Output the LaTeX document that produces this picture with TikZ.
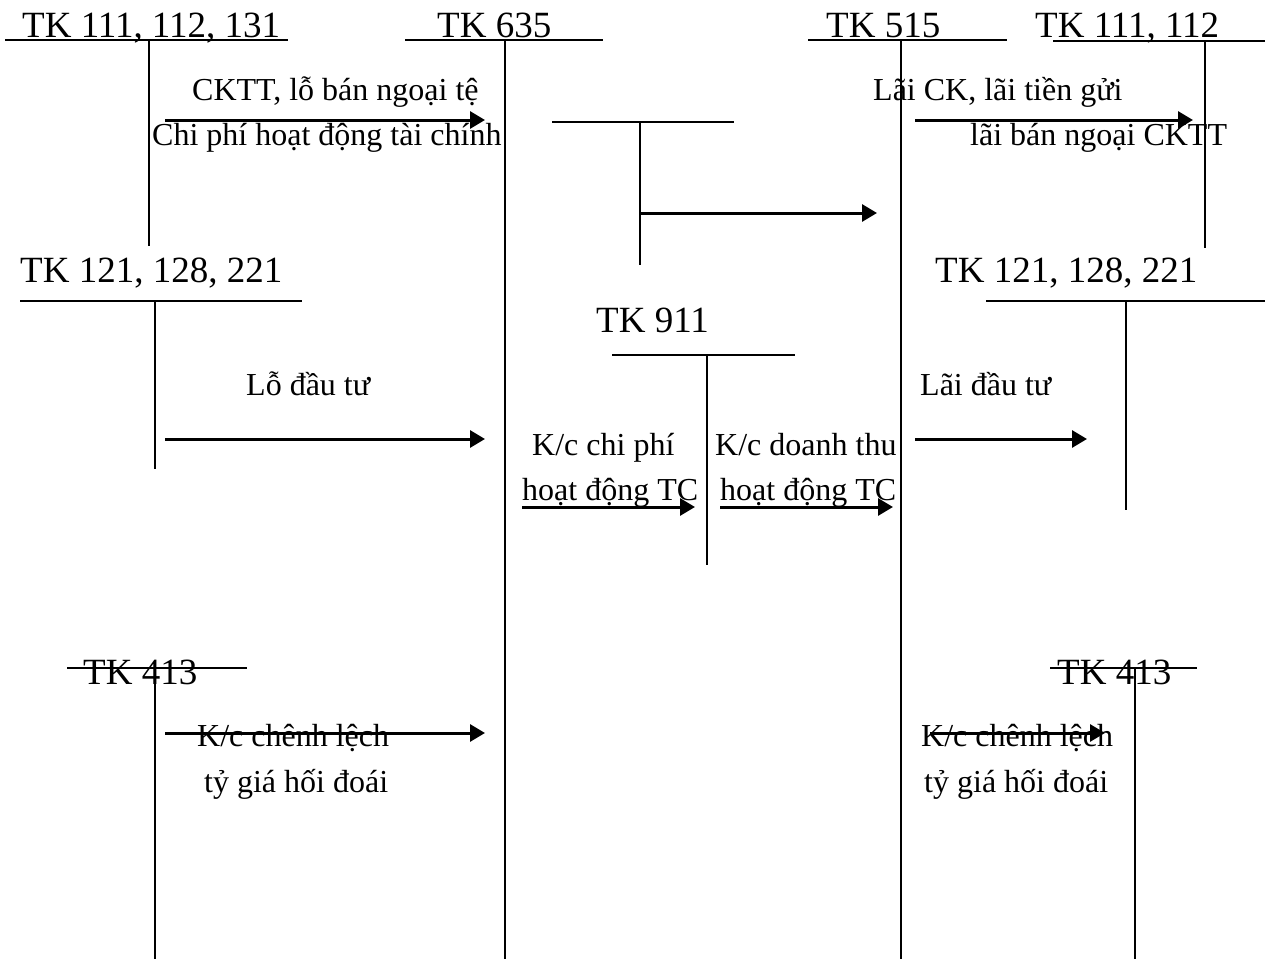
\documentclass[tikz,border=0pt]{standalone}
\usepackage{fontspec}
\setmainfont{Liberation Serif}
\usetikzlibrary{arrows.meta}
\tikzset{
  acct/.style={line width=1.5pt},
  flow/.style={line width=3pt,-{Triangle[length=15pt,width=17pt]}},
  head/.style={anchor=base west,inner sep=0pt,font=\fontsize{37}{40}\selectfont},
  lbl/.style={anchor=base west,inner sep=0pt,font=\fontsize{32}{36}\selectfont}
}
\begin{document}
\begin{tikzpicture}[x=1pt,y=-1pt]
\useasboundingbox (0,0) rectangle (1277,959);

% account titles
\node[head] (h1) at (22,37) {TK 111, 112, 131};
\node[head] (h2) at (437,37) {TK 635};
\node[head] (h3) at (826,37) {TK 515};
\node[head] (h4) at (1035,37) {TK 111, 112};
\node[head] (h5) at (20,282) {TK 121, 128, 221};
\node[head] (h6) at (935,282) {TK 121, 128, 221};
\node[head] (h7) at (596,332) {TK 911};
\node[head] (h8) at (83,684) {TK 413};
\node[head] (h9) at (1057,684) {TK 413};

% T-account frames
\coordinate (a1l) at (5,40);    \coordinate (a1r) at (288,40);
\coordinate (a1t) at (149,40);  \coordinate (a1b) at (149,246);
\coordinate (a2l) at (405,40);  \coordinate (a2r) at (603,40);
\coordinate (a2t) at (505,40);  \coordinate (a2b) at (505,959);
\coordinate (a3l) at (808,40);  \coordinate (a3r) at (1007,40);
\coordinate (a3t) at (901,40);  \coordinate (a3b) at (901,959);
\coordinate (a4l) at (1053,41); \coordinate (a4r) at (1265,41);
\coordinate (a4t) at (1205,41); \coordinate (a4b) at (1205,248);
\coordinate (mdl) at (552,122); \coordinate (mdr) at (734,122);
\coordinate (mdt) at (640,122); \coordinate (mdb) at (640,265);
\coordinate (a5l) at (20,301);  \coordinate (a5r) at (302,301);
\coordinate (a5t) at (155,301); \coordinate (a5b) at (155,469);
\coordinate (a6l) at (986,301); \coordinate (a6r) at (1265,301);
\coordinate (a6t) at (1126,301);\coordinate (a6b) at (1126,510);
\coordinate (a7l) at (612,355); \coordinate (a7r) at (795,355);
\coordinate (a7t) at (707,355); \coordinate (a7b) at (707,565);
\coordinate (a8l) at (67,668);  \coordinate (a8r) at (247,668);
\coordinate (a8t) at (155,668); \coordinate (a8b) at (155,959);
\coordinate (a9l) at (1050,668);\coordinate (a9r) at (1197,668);
\coordinate (a9t) at (1135,668);\coordinate (a9b) at (1135,959);

\foreach \n in {a1,a2,a3,a4,md,a5,a6,a7,a8,a9}{
  \draw[acct] (\n l) -- (\n r);
  \draw[acct] (\n t) -- (\n b);
}

% labels
\node[lbl] (l1) at (192,100) {CKTT, lỗ bán ngoại tệ};
\node[lbl] (l2) at (152,145) {Chi phí hoạt động tài chính};
\node[lbl] (l3) at (873,100) {Lãi CK, lãi tiền gửi};
\node[lbl] (l4) at (970,145) {lãi bán ngoại CKTT};
\node[lbl] (l5) at (246,395) {Lỗ đầu tư};
\node[lbl] (l6) at (920,395) {Lãi đầu tư};
\node[lbl] (l7) at (532,455) {K/c chi phí};
\node[lbl] (l8) at (522,500) {hoạt động TC};
\node[lbl] (l9) at (715,455) {K/c doanh thu};
\node[lbl] (l10) at (720,500) {hoạt động TC};
\node[lbl] (l11) at (197,746) {K/c chênh lệch};
\node[lbl] (l12) at (204,792) {tỷ giá hối đoái};
\node[lbl] (l13) at (921,746) {K/c chênh lệch};
\node[lbl] (l14) at (924,792) {tỷ giá hối đoái};

% flows
\coordinate (f1s) at (165,120); \coordinate (f1e) at (485,120);
\coordinate (f2s) at (915,120); \coordinate (f2e) at (1193,120);
\coordinate (f3s) at (640,213); \coordinate (f3e) at (877,213);
\coordinate (f4s) at (165,439); \coordinate (f4e) at (485,439);
\coordinate (f5s) at (915,439); \coordinate (f5e) at (1087,439);
\coordinate (f6s) at (522,507); \coordinate (f6e) at (695,507);
\coordinate (f7s) at (720,507); \coordinate (f7e) at (893,507);
\coordinate (f8s) at (165,733); \coordinate (f8e) at (485,733);
\coordinate (f9s) at (930,733); \coordinate (f9e) at (1105,733);
\foreach \n in {f1,f2,f3,f4,f5,f6,f7,f8,f9}{
  \draw[flow] (\n s) -- (\n e);
}
\end{tikzpicture}
\end{document}
